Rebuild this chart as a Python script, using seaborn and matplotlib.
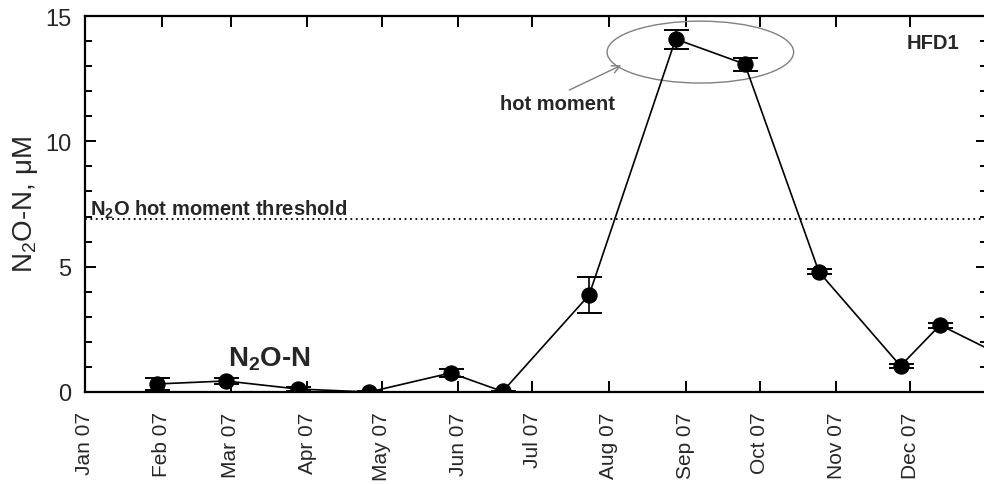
import numpy as np
import pandas as pd
import matplotlib
matplotlib.use("Agg")
import matplotlib.pyplot as plt
from matplotlib.patches import Ellipse
from matplotlib.ticker import MultipleLocator
import matplotlib.dates as mdates
import seaborn as sns

# ---------------- data ----------------
sample_dates = ["2007-01-30", "2007-02-27", "2007-03-28", "2007-04-26", "2007-05-29",
                "2007-06-19", "2007-07-24", "2007-08-28", "2007-09-25", "2007-10-25",
                "2007-11-27", "2007-12-13", "2008-01-08"]
n2o_values = [0.32, 0.44, 0.12, 0.00, 0.76, 0.02, 3.87, 14.08, 13.08, 4.79, 1.04, 2.67, 1.40]
n2o_errors = [0.24, 0.12, 0.08, 0.02, 0.15, 0.02, 0.70, 0.38, 0.26, 0.10, 0.08, 0.10, 0.10]
threshold = 6.9
month_ticks = list(pd.date_range("2007-01-01", "2007-12-01", freq="MS"))
month_labels = [d.strftime("%b %y") for d in month_ticks]
y_major = [0, 5, 10, 15]

# ---------------- style ----------------
sns.set_style("ticks")
plt.rcParams["font.family"] = ["Liberation Sans", "DejaVu Sans"]
plt.rcParams["mathtext.default"] = "regular"

fig = plt.figure(figsize=(9.84, 4.85), dpi=100)
ax = fig.add_axes([85 / 984, 92 / 485, 902 / 984, 376 / 485])

df = pd.DataFrame({"date": pd.to_datetime(sample_dates),
                   "value": n2o_values,
                   "err": n2o_errors})

ax.errorbar(df["date"], df["value"], yerr=df["err"], fmt="none", ecolor="black",
            elinewidth=1.2, capsize=9, capthick=1.4, zorder=2)
sns.lineplot(data=df, x="date", y="value", ax=ax, color="black", linewidth=1.2,
             marker="o", markersize=11, markeredgecolor="black",
             markerfacecolor="black", zorder=3, legend=False)

ax.axhline(threshold, color="black", linestyle=(0, (1, 2)), linewidth=1.3, zorder=1)

ax.set_xlim(pd.Timestamp("2007-01-01"), pd.Timestamp("2008-01-01"))
ax.set_ylim(0, 15)
ax.set_xticks(month_ticks)
ax.set_xticklabels(month_labels, rotation=90, fontsize=15)
ax.set_yticks(y_major)
ax.set_yticklabels([str(v) for v in y_major], fontsize=17)
ax.yaxis.set_minor_locator(MultipleLocator(1))

ax.tick_params(axis="both", which="both", direction="in", top=True, right=True,
               width=1.4, color="black")
ax.tick_params(axis="both", which="major", length=8)
ax.tick_params(axis="both", which="minor", length=5)
ax.tick_params(axis="x", which="major", pad=14)
ax.tick_params(axis="y", which="major", pad=10)
for s in ax.spines.values():
    s.set_linewidth(1.6)
    s.set_color("black")

ax.set_xlabel("")
ax.set_ylabel("N$_2$O-N, μM", fontsize=20)
ax.yaxis.set_label_coords(-0.05, 0.5)

# ---------------- annotations ----------------
ax.text(pd.Timestamp("2007-01-03"), 7.06, "N$_2$O hot moment threshold",
        fontsize=14.5, fontweight="bold", ha="left", va="baseline")
ax.text(pd.Timestamp("2007-02-28"), 1.04, "N$_2$O-N", fontsize=20,
        fontweight="bold", ha="left", va="baseline")
ax.text(pd.Timestamp("2007-07-11"), 11.5, "hot moment", fontsize=14.5,
        fontweight="bold", ha="center", va="center")
ax.text(pd.Timestamp("2007-12-10"), 13.96, "HFD1", fontsize=14.5,
        fontweight="bold", ha="center", va="center")

ell_center = mdates.date2num(pd.Timestamp("2007-09-07"))
ax.add_patch(Ellipse((ell_center, 13.56), width=75.5, height=2.47, fill=False,
                     edgecolor="#808080", linewidth=1.0, zorder=1))
ax.annotate("", xy=(pd.Timestamp("2007-08-07"), 13.08),
            xytext=(pd.Timestamp("2007-07-15"), 12.0),
            arrowprops=dict(arrowstyle="->", color="#808080", lw=1.0,
                            mutation_scale=14))

fig.savefig("out.png", dpi=100)
